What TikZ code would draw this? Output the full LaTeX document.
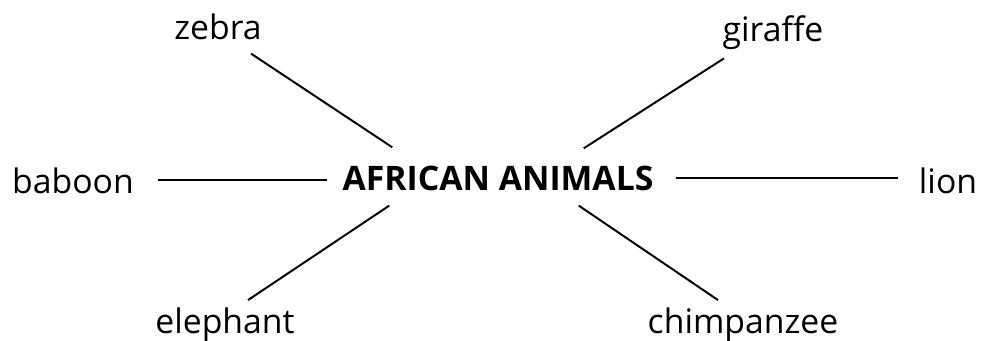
\documentclass[tikz,border=0pt]{standalone}
\usepackage{fontspec}
\setmainfont{Open Sans}
\usetikzlibrary{positioning}

\begin{document}
\begin{tikzpicture}[
  x=0.025cm, y=-0.025cm,
  animal/.style={inner sep=0pt, anchor=base, font=\fontsize{24}{28}\selectfont},
  hubword/.style={inner sep=0pt, anchor=base, font=\fontsize{24}{28}\selectfont\bfseries},
  spoke/.style={line width=1.4pt, color=black}
]
\useasboundingbox (0,0) rectangle (984,341);

% Centre word
\node[hubword] (hub) at (498,190) {AFRICAN ANIMALS};

% Animals round it
\node[animal] (zebra) at (218,40) {zebra};
\node[animal] (giraffe) at (773,42) {giraffe};
\node[animal] (baboon) at (73,193) {baboon};
\node[animal] (lion) at (948,193) {lion};
\node[animal] (elephant) at (225,333) {elephant};
\node[animal] (chimp) at (743,333) {chimpanzee};

% Spokes
\draw[spoke] ([shift={(33,13)}]zebra.south) -- ([shift={(50,-18)}]hub.north west);
\draw[spoke] ([shift={(-49,8)}]giraffe.south) -- ([shift={(-70,-17)}]hub.north east);
\draw[spoke, shorten <=17pt, shorten >=11pt] (baboon.east) -- (baboon.east -| hub.west);
\draw[spoke, shorten <=15.5pt, shorten >=15pt] (hub.east) -- (hub.east -| lion.west);
\draw[spoke] ([shift={(23,-7)}]elephant.north) -- ([shift={(47,15)}]hub.south west);
\draw[spoke] ([shift={(-25,-7)}]chimp.north) -- ([shift={(-75,15)}]hub.south east);

\end{tikzpicture}
\end{document}
